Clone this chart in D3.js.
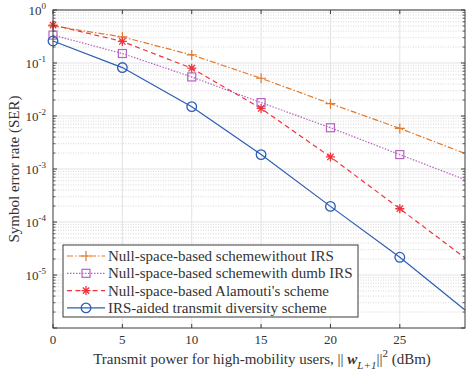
<!DOCTYPE html>
<html>
<head>
<meta charset="utf-8">
<script src="https://cdn.jsdelivr.net/npm/d3@7"></script>
<style>
  body { margin: 0; background: #fff; }
  svg { font-family: "Liberation Serif", "Times New Roman", serif; }
</style>
</head>
<body>
<svg id="chart" width="469" height="377"></svg>
<script>
// Data
var powerDbm = [0, 5, 10, 15, 20, 25, 29.7];
var serNoIrs = [0.50, 0.31, 0.142, 0.0515, 0.0171, 0.00582, 0.00196];
var serDumbIrs = [0.336, 0.151, 0.0546, 0.0179, 0.00601, 0.00187, 0.00063];
var serAlamouti = [0.52, 0.255, 0.0797, 0.0139, 0.00169, 0.000178, 0.000021];
var serIrsAided = [0.26, 0.082, 0.015, 0.00187, 0.000197, 0.0000216, 0.00000218];
var xTicks = [0, 5, 10, 15, 20, 25];
var yTickExps = [0, -1, -2, -3, -4, -5];
var legendNames = [
  "Null-space-based schemewithout IRS",
  "Null-space-based schemewith dumb IRS",
  "Null-space-based Alamouti's scheme",
  "IRS-aided transmit diversity scheme"
];

var series = [
  { name: legendNames[0], values: serNoIrs, color: "#e17a2c", dash: "6,2,1.5,2", marker: "plus", markAt: 6 },
  { name: legendNames[1], values: serDumbIrs, color: "#b862c2", dash: "1.5,1.5", marker: "square", markAt: 6 },
  { name: legendNames[2], values: serAlamouti, color: "#f0323c", dash: "5,3.5", marker: "star", markAt: 6 },
  { name: legendNames[3], values: serIrsAided, color: "#2d5db4", dash: null, marker: "circle", markAt: 6 }
];

var svg = d3.select("#chart");
var plotLeft = 53, plotRight = 465, plotTop = 10, plotBottom = 328;

var x = d3.scaleLinear().domain([0, 29.7]).range([plotLeft, plotRight]);
var y = d3.scaleLog().domain([1e-6, 1]).range([plotBottom, plotTop]);

var axisColor = "#3a3a3a";
var textColor = "#333";

// grid
var grid = svg.append("g");
var minorVals = [];
for (var e = -6; e < 0; e++) {
  for (var m = 2; m <= 9; m++) minorVals.push(m * Math.pow(10, e));
}
grid.selectAll(".minor").data(minorVals).enter().append("line")
  .attr("x1", plotLeft).attr("x2", plotRight)
  .attr("y1", d => y(d)).attr("y2", d => y(d))
  .attr("stroke", "#cfcfcf").attr("stroke-width", 0.8)
  .attr("stroke-dasharray", "1,1.5");
grid.selectAll(".majory").data(yTickExps).enter().append("line")
  .attr("x1", plotLeft).attr("x2", plotRight)
  .attr("y1", d => y(Math.pow(10, d))).attr("y2", d => y(Math.pow(10, d)))
  .attr("stroke", "#e3e3e3").attr("stroke-width", 1);
grid.selectAll(".majorx").data(xTicks.slice(1)).enter().append("line")
  .attr("x1", d => x(d)).attr("x2", d => x(d))
  .attr("y1", plotTop).attr("y2", plotBottom)
  .attr("stroke", "#e3e3e3").attr("stroke-width", 1);

// lines
var line = d3.line().x((d, i) => x(powerDbm[i])).y(d => y(d));
var plot = svg.append("g");
series.forEach(function (s) {
  plot.append("path")
    .datum(s.values)
    .attr("d", line)
    .attr("fill", "none")
    .attr("stroke", s.color)
    .attr("stroke-width", 1.2)
    .attr("stroke-dasharray", s.dash);
});

function drawMarker(g, type, cx, cy, color) {
  if (type === "plus") {
    g.append("path").attr("d", "M" + (cx - 5) + "," + cy + "H" + (cx + 5) + "M" + cx + "," + (cy - 5) + "V" + (cy + 5))
      .attr("stroke", color).attr("stroke-width", 1.2).attr("fill", "none");
  } else if (type === "square") {
    g.append("rect").attr("x", cx - 4).attr("y", cy - 4).attr("width", 8).attr("height", 8)
      .attr("stroke", color).attr("stroke-width", 1.2).attr("fill", "none");
  } else if (type === "star") {
    var p = "";
    for (var k = 0; k < 4; k++) {
      var a = k * Math.PI / 4;
      p += "M" + (cx - 4.5 * Math.cos(a)) + "," + (cy - 4.5 * Math.sin(a)) + "L" + (cx + 4.5 * Math.cos(a)) + "," + (cy + 4.5 * Math.sin(a));
    }
    g.append("path").attr("d", p).attr("stroke", color).attr("stroke-width", 1.3).attr("fill", "none");
  } else {
    g.append("circle").attr("cx", cx).attr("cy", cy).attr("r", 4.8)
      .attr("stroke", color).attr("stroke-width", 1.3).attr("fill", "none");
  }
}

series.forEach(function (s) {
  s.values.slice(0, s.markAt).forEach(function (v, i) {
    drawMarker(plot, s.marker, x(powerDbm[i]), y(v), s.color);
  });
});

// frame and ticks
var frame = svg.append("g");
frame.append("rect").attr("x", plotLeft).attr("y", plotTop).attr("width", plotRight - plotLeft).attr("height", plotBottom - plotTop)
  .attr("fill", "none").attr("stroke", axisColor).attr("stroke-width", 1);

xTicks.forEach(function (t) {
  frame.append("line").attr("x1", x(t)).attr("x2", x(t)).attr("y1", plotBottom).attr("y2", plotBottom - 4)
    .attr("stroke", axisColor);
  frame.append("line").attr("x1", x(t)).attr("x2", x(t)).attr("y1", plotTop).attr("y2", plotTop + 4)
    .attr("stroke", axisColor);
  frame.append("text").attr("x", x(t)).attr("y", 344).attr("text-anchor", "middle")
    .attr("font-size", 13).attr("fill", textColor).text(t);
});

yTickExps.concat([-6]).forEach(function (ex) {
  var yy = y(Math.pow(10, ex));
  frame.append("line").attr("x1", plotLeft).attr("x2", plotLeft + 4).attr("y1", yy).attr("y2", yy).attr("stroke", axisColor);
  frame.append("line").attr("x1", plotRight).attr("x2", plotRight - 4).attr("y1", yy).attr("y2", yy).attr("stroke", axisColor);
});
minorVals.forEach(function (v) {
  var yy = y(v);
  frame.append("line").attr("x1", plotLeft).attr("x2", plotLeft + 2.5).attr("y1", yy).attr("y2", yy).attr("stroke", axisColor).attr("stroke-width", 0.8);
  frame.append("line").attr("x1", plotRight).attr("x2", plotRight - 2.5).attr("y1", yy).attr("y2", yy).attr("stroke", axisColor).attr("stroke-width", 0.8);
});

yTickExps.forEach(function (ex) {
  var yy = y(Math.pow(10, ex));
  var t = frame.append("text").attr("x", 46).attr("y", yy + 4.5).attr("text-anchor", "end")
    .attr("font-size", 13).attr("fill", textColor);
  t.append("tspan").text("10");
  t.append("tspan").attr("dy", -6).attr("font-size", 9).text(ex === 0 ? "0" : "-" + (-ex));
});

// axis titles
svg.append("text")
  .attr("transform", "translate(19," + ((plotTop + plotBottom) / 2) + ") rotate(-90)")
  .attr("text-anchor", "middle").attr("font-size", 15).attr("fill", textColor)
  .text("Symbol error rate (SER)");

var xl = svg.append("text").attr("x", (plotLeft + plotRight) / 2 + 3).attr("y", 364)
  .attr("text-anchor", "middle").attr("font-size", 15).attr("fill", textColor);
xl.append("tspan").text("Transmit power for high-mobility users, || ");
xl.append("tspan").attr("font-weight", "bold").attr("font-style", "italic").text("w");
xl.append("tspan").attr("dy", 5).attr("font-size", 11).attr("font-style", "italic").text("L+1");
xl.append("tspan").attr("dy", -5).text("||");
xl.append("tspan").attr("dy", -7).attr("font-size", 11).text("2");
xl.append("tspan").attr("dy", 7).text(" (dBm)");

// legend
var lg = svg.append("g");
lg.append("rect").attr("x", 63).attr("y", 245).attr("width", 295).attr("height", 72)
  .attr("fill", "#fff").attr("stroke", axisColor).attr("stroke-width", 1);
series.forEach(function (s, i) {
  var ry = 256 + i * 17.3;
  lg.append("line").attr("x1", 67).attr("x2", 105).attr("y1", ry).attr("y2", ry)
    .attr("stroke", s.color).attr("stroke-width", 1.2).attr("stroke-dasharray", s.dash);
  drawMarker(lg, s.marker, 86, ry, s.color);
  lg.append("text").attr("x", 108).attr("y", ry + 5).attr("font-size", 15).attr("fill", textColor).text(s.name);
});
</script>
</body>
</html>
